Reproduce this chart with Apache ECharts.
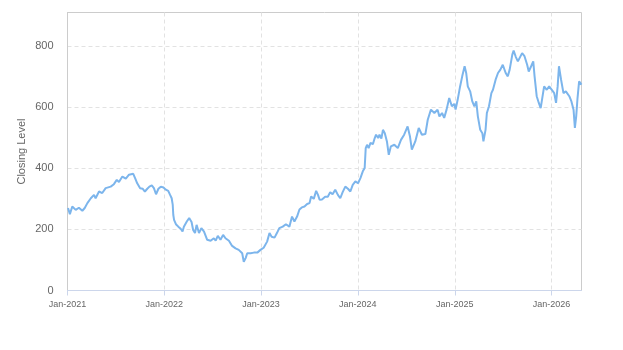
<!DOCTYPE html>
<html>
<head>
<meta charset="utf-8">
<script src="https://cdn.jsdelivr.net/npm/echarts@6/dist/echarts.min.js"></script>
<style>
  html, body { margin: 0; padding: 0; background: #ffffff; }
  #chart { width: 623px; height: 350px; }
</style>
</head>
<body>
<div id="chart"></div>
<script>
// Closing levels, grouped by calendar year
const dates2021 = ['2021-01-03','2021-01-10','2021-01-19','2021-02-01','2021-02-13','2021-02-26','2021-03-07','2021-03-17','2021-03-30','2021-04-11','2021-04-17','2021-04-30','2021-05-12','2021-05-25','2021-06-13','2021-06-25','2021-07-06','2021-07-14','2021-07-27','2021-08-09','2021-08-21','2021-09-06','2021-09-13','2021-09-21','2021-10-02','2021-10-12','2021-10-20','2021-10-29','2021-11-06','2021-11-15','2021-11-23','2021-12-01','2021-12-10','2021-12-19','2021-12-29'];
const values2021 = [270,250,275,264,271,261,270,286,302,313,302,324,319,335,340,348,362,355,373,366,379,382,368,351,335,333,324,333,340,344,335,315,333,340,337];

const dates2022 = ['2022-01-07','2022-01-16','2022-01-23','2022-01-29','2022-02-02','2022-02-04','2022-02-07','2022-02-14','2022-02-23','2022-03-04','2022-03-11','2022-03-16','2022-03-27','2022-04-05','2022-04-14','2022-04-20','2022-04-27','2022-05-03','2022-05-12','2022-05-21','2022-05-31','2022-06-06','2022-06-12','2022-06-25','2022-07-07','2022-07-14','2022-07-22','2022-08-01','2022-08-11','2022-08-20','2022-09-02','2022-09-14','2022-09-27','2022-10-09','2022-10-22','2022-10-28','2022-11-04','2022-11-10','2022-11-23','2022-12-05','2022-12-18','2022-12-30'];
const values2022 = [330,326,313,302,280,248,231,217,209,202,193,209,226,237,224,198,188,215,188,204,193,198,166,163,171,163,179,166,182,171,163,146,138,133,122,94,106,122,122,124,124,133];

const dates2023 = ['2023-01-11','2023-01-24','2023-02-02','2023-02-10','2023-02-21','2023-03-02','2023-03-11','2023-03-24','2023-04-05','2023-04-18','2023-04-28','2023-05-07','2023-05-17','2023-05-26','2023-06-04','2023-06-14','2023-06-24','2023-07-03','2023-07-09','2023-07-19','2023-07-28','2023-08-04','2023-08-10','2023-08-19','2023-08-31','2023-09-10','2023-09-19','2023-09-28','2023-10-08','2023-10-18','2023-10-27','2023-11-05','2023-11-15','2023-11-25','2023-12-04','2023-12-13','2023-12-23'];
const values2023 = [140,160,188,176,173,188,204,209,217,209,242,226,242,265,272,275,283,286,308,300,326,313,297,298,307,307,322,315,330,313,302,322,340,333,324,346,357];

const dates2024 = ['2024-01-02','2024-01-11','2024-01-20','2024-01-27','2024-01-31','2024-02-05','2024-02-11','2024-02-18','2024-02-27','2024-03-05','2024-03-10','2024-03-18','2024-03-23','2024-03-30','2024-04-05','2024-04-12','2024-04-20','2024-04-27','2024-05-05','2024-05-18','2024-05-31','2024-06-12','2024-06-24','2024-07-07','2024-07-16','2024-07-23','2024-08-05','2024-08-18','2024-08-30','2024-09-12','2024-09-21','2024-10-03','2024-10-16','2024-10-28','2024-11-04','2024-11-14','2024-11-22','2024-12-01','2024-12-11','2024-12-21','2024-12-30'];
const values2024 = [351,368,390,401,466,477,466,483,479,499,510,499,510,497,526,515,488,444,472,477,466,493,510,537,504,461,488,532,510,512,559,592,581,592,570,581,565,592,630,603,611];

const dates2025 = ['2025-01-04','2025-01-12','2025-01-21','2025-01-29','2025-02-07','2025-02-13','2025-02-19','2025-02-28','2025-03-08','2025-03-16','2025-03-23','2025-03-29','2025-04-07','2025-04-15','2025-04-19','2025-04-27','2025-05-02','2025-05-10','2025-05-19','2025-05-25','2025-06-04','2025-06-13','2025-06-22','2025-07-01','2025-07-12','2025-07-20','2025-07-27','2025-08-06','2025-08-11','2025-08-19','2025-08-27','2025-09-03','2025-09-12','2025-09-21','2025-10-01','2025-10-07','2025-10-16','2025-10-24','2025-10-29','2025-11-06','2025-11-14','2025-11-21','2025-11-27','2025-12-04','2025-12-14','2025-12-23'];
const values2025 = [592,625,668,701,734,712,668,652,619,603,619,570,526,515,488,526,581,603,646,657,690,712,723,739,712,701,723,772,785,765,750,755,777,767,739,717,734,750,701,636,614,597,630,668,657,668];

const dates2026 = ['2026-01-02','2026-01-11','2026-01-18','2026-01-24','2026-01-29','2026-02-06','2026-02-15','2026-02-24','2026-03-02','2026-03-09','2026-03-17','2026-03-25','2026-03-30','2026-04-04','2026-04-09','2026-04-15','2026-04-24'];
const values2026 = [657,646,614,668,734,690,646,652,657,636,619,592,532,570,630,685,674];

const yTicks = [0, 200, 400, 600, 800];
const monthNames = ['Jan','Feb','Mar','Apr','May','Jun','Jul','Aug','Sep','Oct','Nov','Dec'];

const allDates = [].concat(dates2021, dates2022, dates2023, dates2024, dates2025, dates2026);
const allValues = [].concat(values2021, values2022, values2023, values2024, values2025, values2026);
const seriesData = allDates.map((d, i) => [d, allValues[i]]);

const DAY = 24 * 3600 * 1000;
const font = '"Liberation Sans", Arial, sans-serif';
const gridLine = { show: true, showMinLine: false, showMaxLine: false,
                   lineStyle: { color: '#e2e2e2', type: [4, 3], width: 1 } };

const chart = echarts.init(document.getElementById('chart'), null, { renderer: 'canvas' });
chart.setOption({
  animation: false,
  backgroundColor: '#ffffff',
  grid: {
    left: 67.5, right: 41.5, top: 12.5, bottom: 59.5,
    show: true, borderColor: '#cccccc', borderWidth: 1
  },
  xAxis: {
    type: 'time',
    min: '2021-01-01',
    max: 'dataMax',
    minInterval: 365 * DAY,
    maxInterval: 366 * DAY,
    axisLine: { show: true, lineStyle: { color: '#ccd6eb', width: 1 } },
    axisTick: { show: true, length: 5, lineStyle: { color: '#ccd6eb' } },
    axisLabel: {
      color: '#666666', fontSize: 9, fontFamily: font, margin: 10,
      hideOverlap: false,
      formatter: function (val) {
        const d = new Date(val);
        return monthNames[d.getMonth()] + '-' + d.getFullYear();
      }
    },
    splitLine: gridLine
  },
  yAxis: {
    type: 'value',
    min: yTicks[0],
    max: 910,
    interval: 200,
    name: 'Closing Level',
    nameLocation: 'middle',
    nameGap: 40,
    nameMoveOverlap: false,
    nameTextStyle: { color: '#666666', fontSize: 11, fontFamily: font },
    axisLine: { show: true, lineStyle: { color: '#cccccc' } },
    axisTick: { show: false },
    axisLabel: {
      color: '#666666', fontSize: 11, fontFamily: font, margin: 14,
      showMaxLabel: false,
      formatter: function (v) { return yTicks.indexOf(v) >= 0 ? String(v) : ''; }
    },
    splitLine: gridLine
  },
  series: [{
    type: 'line',
    name: 'Closing Level',
    data: seriesData,
    showSymbol: false,
    smooth: false,
    lineStyle: { color: '#7cb5ec', width: 2 },
    itemStyle: { color: '#7cb5ec' }
  }]
});
</script>
</body>
</html>
